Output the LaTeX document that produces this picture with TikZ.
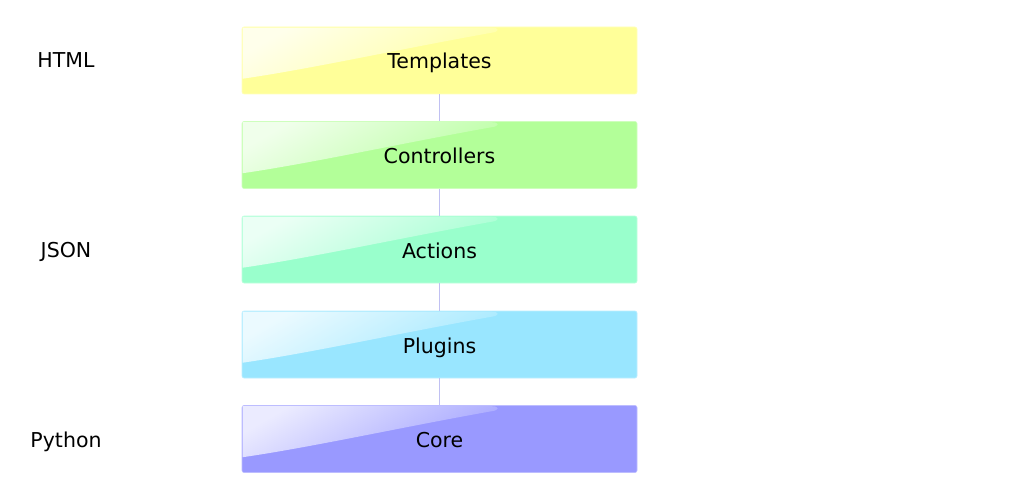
\documentclass[tikz,border=0pt]{standalone}
\usepackage{fontspec}
\setmainfont{DejaVu Sans}
\definecolor{cTempl}{HTML}{FFFF99}
\definecolor{cContr}{HTML}{B3FF99}
\definecolor{cAct}{HTML}{99FFCC}
\definecolor{cPlug}{HTML}{99E6FF}
\definecolor{cCore}{HTML}{9999FF}
\definecolor{connc}{HTML}{C0C0F2}
\begin{document}
\begin{tikzpicture}[x=1pt,y=-1pt,
  txt/.style={font=\fontsize{20.5}{24}\selectfont, text=black, inner sep=0pt},
  layerbox/.style={draw=white!35!#1, fill=#1, line width=0.6pt,
    rounded corners=2pt, minimum width=395pt, minimum height=67pt, inner sep=0pt},
  conn/.style={draw=connc, line width=1.5pt}]
\useasboundingbox (0,0) rectangle (1034,500);
\path[fill=white] (0,0) rectangle (1034,500);
\node[layerbox=cTempl] (t) at (439.5,60.5) {};
\node[layerbox=cContr] (c) at (439.5,155) {};
\node[layerbox=cAct]   (a) at (439.5,249.5) {};
\node[layerbox=cPlug]  (p) at (439.5,344.5) {};
\node[layerbox=cCore]  (k) at (439.5,439) {};
\draw[conn] (t) -- (c);
\draw[conn] (c) -- (a);
\draw[conn] (a) -- (p);
\draw[conn] (p) -- (k);
% gloss
\foreach \n/\col in {t/cTempl,c/cContr,a/cAct,p/cPlug,k/cCore}{
  \shade[top color=white!80!\col, bottom color=white!10!\col, shading angle=30]
    ([xshift=1pt,yshift=-1pt]\n.north west)
    -- ([xshift=250pt,yshift=-1pt]\n.north west)
    .. controls ([xshift=258pt,yshift=-1pt]\n.north west) and ([xshift=258pt,yshift=-5pt]\n.north west)
    .. ([xshift=250pt,yshift=-6pt]\n.north west)
    .. controls ([xshift=160pt,yshift=-22pt]\n.north west) and ([xshift=70pt,yshift=-42pt]\n.north west)
    .. ([xshift=1pt,yshift=-52pt]\n.north west)
    -- cycle;
}
\node[txt, anchor=base] at ([yshift=-8.5pt]t.center) {Templates};
\node[txt, anchor=base] at ([yshift=-8.5pt]c.center) {Controllers};
\node[txt, anchor=base] at ([yshift=-8.5pt]a.center) {Actions};
\node[txt, anchor=base] at ([yshift=-8.5pt]p.center) {Plugins};
\node[txt, anchor=base] at ([yshift=-8.5pt]k.center) {Core};
\node[txt, anchor=base] (lh) at (66,68) {HTML};
\node[txt, anchor=base] (lj) at (66,257) {JSON};
\node[txt, anchor=base] (lp) at (66,447) {Python};
\end{tikzpicture}
\end{document}
